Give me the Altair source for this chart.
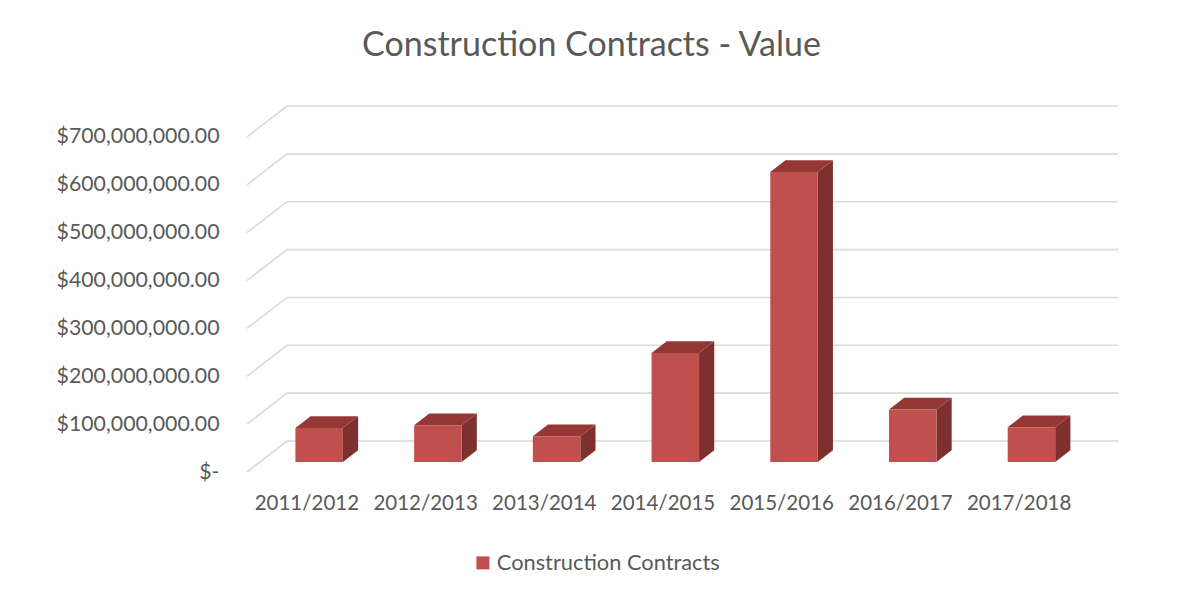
import json
import altair as alt
import pandas as pd

# ---- data ----
categories = ["2011/2012", "2012/2013", "2013/2014", "2014/2015",
              "2015/2016", "2016/2017", "2017/2018"]
values_musd = [71, 77, 54, 228, 606, 110, 73]
tick_values = [0, 100e6, 200e6, 300e6, 400e6, 500e6, 600e6, 700e6]
series_name = "Construction Contracts"
title_text = "Construction Contracts - Value"

values = [v * 1e6 for v in values_musd]

# ---- pseudo-3D projection constants (depth offset in data units) ----
DX = 0.337        # depth shift along x, in category units
DY = 64.7e6       # depth shift along y, in dollars
Z0, Z1 = 0.32, 0.70   # bar front / back depth (0 = front, 1 = back wall)
HALF = 0.2            # half bar width in category units
XMAX = len(categories) + DX
YMAX = tick_values[-1] + DY

FONT = "Lato"
TXT = "#595959"
FRONT = "#C0504D"
SIDE = "#7E302E"
TOP = "#953735"

xs = alt.Scale(domain=[0, XMAX], nice=False, zero=False, padding=0)
ys = alt.Scale(domain=[0, YMAX], nice=False, zero=False, padding=0)

cat_expr = json.dumps(categories) + "[floor(datum.value)]"
y_expr = ("datum.value == 0 ? '$-\u00a0\u00a0\u00a0\u00a0\u00a0' : "
          "'$' + format(datum.value, ',.2f')")

x_axis = alt.Axis(values=[i + 0.5 for i in range(len(categories))],
                  labelExpr=cat_expr, title=None, grid=False, domain=False,
                  ticks=False, tickSize=0, labelFont=FONT, labelFontSize=20.5,
                  labelColor=TXT, labelPadding=21)
y_axis = alt.Axis(values=tick_values, labelExpr=y_expr, title=None,
                  grid=False, domain=False, ticks=False, tickSize=0,
                  labelFont=FONT, labelFontSize=21.3, labelColor=TXT,
                  labelPadding=28)

# gridlines (front-left edge -> back wall)
grid_rows = []
for t in tick_values:
    grid_rows.append({"tick": t, "o": 0, "x": 0.0, "y": t})
    grid_rows.append({"tick": t, "o": 1, "x": DX, "y": t + DY})
    grid_rows.append({"tick": t, "o": 2, "x": XMAX, "y": t + DY})
grid_df = pd.DataFrame(grid_rows)

front_rows, side_rows, top_rows = [], [], []
for i, (c, v) in enumerate(zip(categories, values)):
    c0 = i + 0.5
    front_rows.append({"cat": c, "series": series_name, "value": v,
                       "x": c0 - HALF + Z0 * DX, "x2": c0 + HALF + Z0 * DX,
                       "y": Z0 * DY, "y2": v + Z0 * DY})
    for z in (Z0, Z1):
        side_rows.append({"cat": c, "x": c0 + HALF + z * DX,
                          "y": z * DY, "yhi": v + z * DY})
        top_rows.append({"cat": c, "y": v + z * DY,
                         "x": c0 - HALF + z * DX, "xhi": c0 + HALF + z * DX})
front_df = pd.DataFrame(front_rows)
side_df = pd.DataFrame(side_rows)
top_df = pd.DataFrame(top_rows)

grid = alt.Chart(grid_df).mark_line(color="#D9D9D9", strokeWidth=1.6).encode(
    x=alt.X("x:Q", scale=xs, axis=x_axis),
    y=alt.Y("y:Q", scale=ys, axis=y_axis),
    detail="tick:N",
    order="o:Q",
)

side = alt.Chart(side_df).mark_area(color=SIDE).encode(
    x=alt.X("x:Q", scale=xs, axis=x_axis),
    y=alt.Y("y:Q", scale=ys, axis=y_axis),
    y2="yhi:Q",
    detail="cat:N",
)

top = alt.Chart(top_df).mark_area(color=TOP, orient="horizontal").encode(
    y=alt.Y("y:Q", scale=ys, axis=y_axis),
    x=alt.X("x:Q", scale=xs, axis=x_axis),
    x2="xhi:Q",
    detail="cat:N",
)

front = alt.Chart(front_df).mark_rect().encode(
    x=alt.X("x:Q", scale=xs, axis=x_axis),
    x2="x2:Q",
    y=alt.Y("y:Q", scale=ys, axis=y_axis),
    y2="y2:Q",
    color=alt.Color("series:N", scale=alt.Scale(range=[FRONT]),
                    legend=alt.Legend(orient="none", legendX=225, legendY=446,
                                      title=None, symbolType="square",
                                      symbolSize=169, symbolStrokeWidth=0,
                                      labelFont=FONT, labelFontSize=21.8,
                                      labelColor=TXT, labelOffset=3,
                                      labelLimit=500)),
    tooltip=["cat:N", alt.Tooltip("value:Q", format="$,.2f")],
)

chart = alt.layer(grid, side, top, front).properties(
    width=871,
    height=366,
    padding={"left": 239, "top": 98, "right": 54, "bottom": 120},
    autosize=alt.AutoSizeParams(type="none"),
    title=alt.TitleParams(title_text, font=FONT, fontSize=34,
                          fontWeight="normal", color=TXT, anchor="middle",
                          dx=-91, offset=40),
    background="white",
).configure_view(stroke=None)

chart.save("out.html", embed_options={"renderer": "svg", "actions": False})
